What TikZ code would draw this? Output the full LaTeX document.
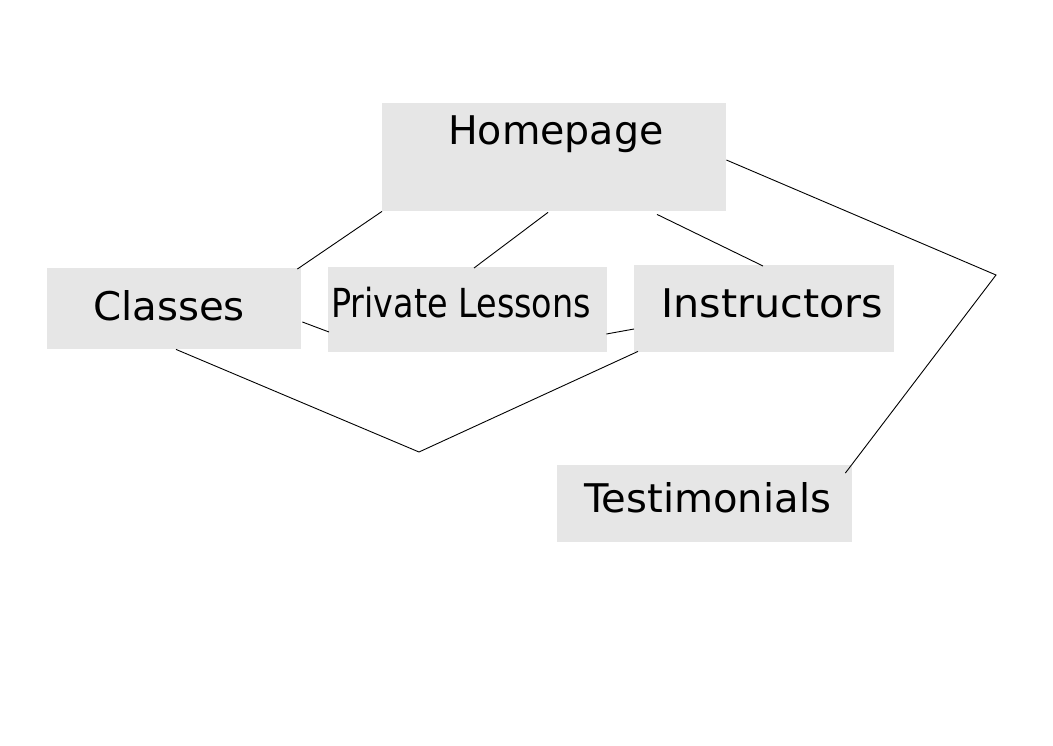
\documentclass[tikz,border=0pt]{standalone}
\usepackage{fontspec}
\setmainfont{DejaVu Sans}
\usetikzlibrary{calc}
\definecolor{boxgray}{HTML}{E6E6E6}
\tikzset{
  box/.style={fill=boxgray, draw=none, inner sep=0pt, anchor=north west},
  lbl/.style={anchor=base west, inner sep=0pt, font=\fontsize{39.5}{45}\selectfont},
  conn/.style={draw=black, line width=0.9pt}
}
\begin{document}
\begin{tikzpicture}[x=1pt,y=-1pt]
\useasboundingbox (0,0) rectangle (1053,745);
\fill[white] (0,0) rectangle (1053,745);
% boxes
\node[box, minimum width=344pt, minimum height=108pt] (home) at (382,103) {};
\node[box, minimum width=254pt, minimum height=81pt] (classes) at (47,268) {};
\node[box, minimum width=279pt, minimum height=85pt] (pl) at (328,267) {};
\node[box, minimum width=260pt, minimum height=87pt] (instr) at (634,265) {};
\node[box, minimum width=295pt, minimum height=77pt] (test) at (557,465) {};
% labels
\node[lbl] (homet) at (448,144) {Homepage};
\node[lbl] (classest) at (93,320) {\scalebox{1.02}[1]{Classes}};
\node[lbl, font=\fontsize{40}{46}\selectfont] (plt) at (331,317) {\scalebox{0.836}[1]{Private Lessons}};
\node[lbl] (instrt) at (661,317) {\scalebox{1.045}[1]{Instructors}};
\node[lbl] (testt) at (584,512) {\scalebox{1.015}[1]{Testimonials}};
% bend points
\coordinate (r) at (996,275);
\coordinate (b) at (419,452);
% connectors
\draw[conn] (home.south west) -- ($(classes.north east)+(-4,1)$);
\draw[conn] ($(home.south west)+(166,1)$) -- ($(pl.north west)+(146,1)$);
\draw[conn] ($(home.south west)+(275,3)$) -- ($(instr.north west)+(129,1)$);
\draw[conn] ($(home.north east)+(0,57)$) -- (r) -- ($(test.north east)+(-7,8)$);
\draw[conn] ($(classes.north east)+(1,54)$) -- ($(pl.north west)+(1,65)$);
\draw[conn] ($(pl.north east)+(-1,67)$) -- ($(instr.north west)+(0,64)$);
\draw[conn] ($(classes.south west)+(129,0)$) -- (b) -- ($(instr.south west)+(4,-1)$);
\end{tikzpicture}
\end{document}
